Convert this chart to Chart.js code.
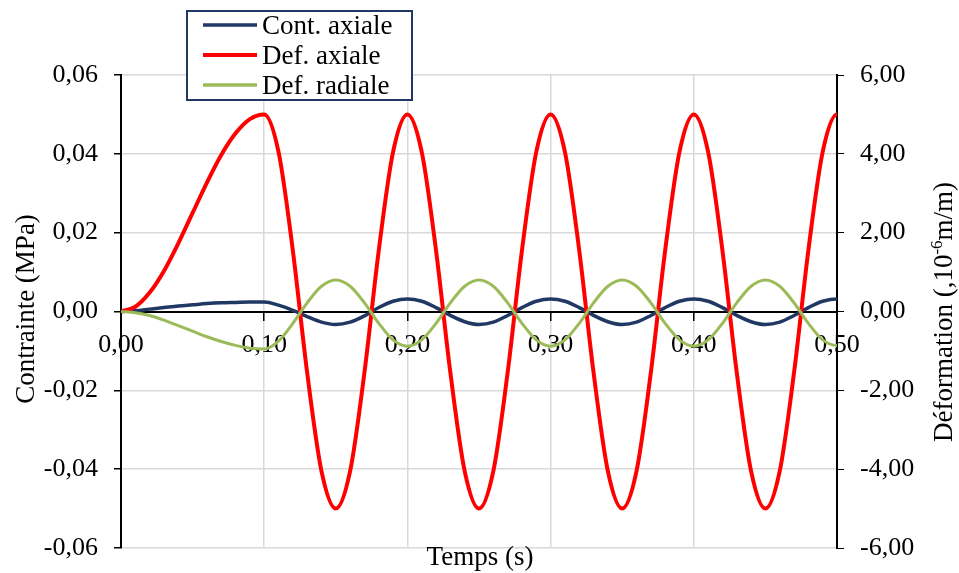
<!DOCTYPE html>
<html>
<head>
<meta charset="utf-8">
<script src="https://cdn.jsdelivr.net/npm/chart.js@4.4.1/dist/chart.umd.min.js"></script>
<style>
  body { margin: 0; background: #fff; }
  #wrap { width: 959px; height: 573px; position: relative; }
</style>
</head>
<body>
<div id="wrap"><canvas id="chart_temps"></canvas></div>
<script>
// temps (s) - le dernier point (0,51) sort du cadre, il sert juste a finir la courbe proprement
const temps = [0, 0.01, 0.02, 0.03, 0.04, 0.05, 0.06, 0.07, 0.08, 0.09,
    0.10, 0.11, 0.12, 0.13, 0.14, 0.15, 0.16, 0.17, 0.18, 0.19,
    0.20, 0.21, 0.22, 0.23, 0.24, 0.25, 0.26, 0.27, 0.28, 0.29,
    0.30, 0.31, 0.32, 0.33, 0.34, 0.35, 0.36, 0.37, 0.38, 0.39,
    0.40, 0.41, 0.42, 0.43, 0.44, 0.45, 0.46, 0.47, 0.48, 0.49, 0.50, 0.51];

// Cont. axiale (MPa)
const cont_axiale = [0, 0.0002, 0.0006, 0.0010, 0.0014, 0.0017, 0.0020, 0.0022, 0.0023, 0.0024,
    0.0024, 0.0016, 0.0003, -0.0013, -0.0027, -0.0033, -0.0027, -0.0011, 0.0010, 0.0026,
    0.0032, 0.0026, 0.0010, -0.0010, -0.0026, -0.0033, -0.0027, -0.0010, 0.0010, 0.0026,
    0.0032, 0.0026, 0.0010, -0.0010, -0.0026, -0.0033, -0.0027, -0.0010, 0.0010, 0.0026,
    0.0032, 0.0026, 0.0010, -0.0010, -0.0026, -0.0033, -0.0027, -0.0010, 0.0010, 0.0026, 0.0032, 0.0026];

// Def. axiale (10-6 m/m)
const def_axiale = [0, 0.12, 0.48, 1.03, 1.73, 2.50, 3.27, 3.97, 4.52, 4.88,
    5.00, 4.05, 1.55, -1.55, -4.05, -5.00, -4.05, -1.55, 1.55, 4.05,
    5.00, 4.05, 1.55, -1.55, -4.05, -5.00, -4.05, -1.55, 1.55, 4.05,
    5.00, 4.05, 1.55, -1.55, -4.05, -5.00, -4.05, -1.55, 1.55, 4.05,
    5.00, 4.05, 1.55, -1.55, -4.05, -5.00, -4.05, -1.55, 1.55, 4.05, 5.00, 4.05];

// Def. radiale (10-6 m/m)
const def_radiale = [0, -0.03, -0.10, -0.22, -0.36, -0.50, -0.64, -0.76, -0.86, -0.93,
    -0.95, -0.75, -0.30, 0.22, 0.64, 0.80, 0.64, 0.22, -0.30, -0.72,
    -0.88, -0.72, -0.30, 0.22, 0.64, 0.80, 0.64, 0.22, -0.30, -0.72,
    -0.88, -0.72, -0.30, 0.22, 0.64, 0.80, 0.64, 0.22, -0.30, -0.72,
    -0.88, -0.72, -0.30, 0.22, 0.64, 0.80, 0.64, 0.22, -0.30, -0.72, -0.86, -0.72];

const series_names = ["Cont. axiale", "Def. axiale", "Def. radiale"];
const series_colors = ["#203864", "#FF0000", "#9BBB59"];

const serif = "'Liberation Serif', 'Times New Roman', serif";

function pts(ys){
    return temps.map(function(t, i){ return {x: t, y: ys[i]}; });
}

function virgule(v, n){
    return v.toFixed(n).replace(".", ",");
}

// pas de marge auto autour des axes, le cadre est fixe par layout.padding
function sansMarge(s){
    s.paddingTop = 0;
    s.paddingBottom = 0;
}

// titres d'axes + legende dessines a la main
const decor = {
    id: "decor",
    afterDraw: function(chart){
        const ctx = chart.ctx;
        ctx.save();
        ctx.fillStyle = "#000";
        ctx.font = "27px " + serif;
        ctx.textBaseline = "alphabetic";

        // Temps (s)
        ctx.textAlign = "center";
        ctx.fillText("Temps (s)", 480, 565);

        // Contrainte (MPa)
        ctx.save();
        ctx.translate(34, 309);
        ctx.rotate(-Math.PI / 2);
        ctx.fillText("Contrainte (MPa)", 0, 0);
        ctx.restore();

        // Deformation (,10-6m/m)
        ctx.save();
        ctx.translate(952, 312);
        ctx.rotate(-Math.PI / 2);
        ctx.textAlign = "left";
        const p1 = "Déformation (,10", p2 = "-6", p3 = "m/m)";
        ctx.font = "27px " + serif;
        const w1 = ctx.measureText(p1).width, w3 = ctx.measureText(p3).width;
        ctx.font = "17px " + serif;
        const w2 = ctx.measureText(p2).width;
        let x = -(w1 + w2 + w3) / 2;
        ctx.font = "27px " + serif;
        ctx.fillText(p1, x, 0);
        ctx.font = "17px " + serif;
        ctx.fillText(p2, x + w1, -10);
        ctx.font = "27px " + serif;
        ctx.fillText(p3, x + w1 + w2, 0);
        ctx.restore();

        // legende
        ctx.fillStyle = "#fff";
        ctx.fillRect(187, 11, 225, 89);
        ctx.strokeStyle = "#203864";
        ctx.lineWidth = 2;
        ctx.strokeRect(187, 11, 225, 89);
        const rows = [25, 55, 85];
        ctx.textAlign = "left";
        ctx.font = "27px " + serif;
        for(let i = 0; i < series_names.length; i++){
            ctx.strokeStyle = series_colors[i];
            ctx.lineWidth = i == 1 ? 4 : 3.5;
            ctx.beginPath();
            ctx.moveTo(203, rows[i]);
            ctx.lineTo(257, rows[i]);
            ctx.stroke();
            ctx.fillStyle = "#000";
            ctx.fillText(series_names[i], 262, rows[i] + 9);
        }
        ctx.restore();
    }
};

const ctx_temps = document.querySelector("#chart_temps").getContext("2d");

var myChart = new Chart(ctx_temps, {
    type: "line",
    data: {
        datasets: [
            {
                label: series_names[0],
                data: pts(cont_axiale),
                yAxisID: "y",
                borderColor: series_colors[0],
                borderWidth: 3.5,
                order: 3
            },
            {
                label: series_names[1],
                data: pts(def_axiale),
                yAxisID: "y2",
                borderColor: series_colors[1],
                borderWidth: 4,
                order: 2
            },
            {
                label: series_names[2],
                data: pts(def_radiale),
                yAxisID: "y2",
                borderColor: series_colors[2],
                borderWidth: 3,
                order: 1
            }
        ]
    },
    options: {
        responsive: true,
        maintainAspectRatio: false,
        animation: false,
        elements: {
            point: { radius: 0 },
            line: { cubicInterpolationMode: "monotone", fill: false }
        },
        layout: { padding: { left: 0, right: 0, top: 75, bottom: 25 } },
        plugins: {
            legend: { display: false },
            tooltip: { enabled: false }
        },
        scales: {
            x: {
                type: "linear",
                position: { y: 0 },
                min: 0,
                max: 0.5,
                afterFit: sansMarge,
                border: { color: "#000", width: 2 },
                grid: { color: "#d9d9d9", lineWidth: 1.5, tickColor: "#000", tickLength: 8 },
                ticks: {
                    stepSize: 0.1,
                    color: "#000",
                    padding: 10,
                    font: { family: serif, size: 26 },
                    maxRotation: 0,
                    callback: function(v){ return virgule(v, 2); }
                }
            },
            y: {
                position: "left",
                min: -0.06,
                max: 0.06,
                afterFit: function(s){ s.width = 121; sansMarge(s); },
                border: { color: "#000", width: 2 },
                grid: { color: "#d9d9d9", lineWidth: 1.5, tickColor: "#000", tickLength: 7 },
                ticks: {
                    stepSize: 0.02,
                    color: "#000",
                    padding: 16,
                    font: { family: serif, size: 26 },
                    callback: function(v){ return virgule(v, 2); }
                }
            },
            y2: {
                position: "right",
                min: -6,
                max: 6,
                afterFit: function(s){ s.width = 122; sansMarge(s); },
                border: { color: "#000", width: 2 },
                grid: { drawOnChartArea: false, tickColor: "#000", tickLength: 7 },
                ticks: {
                    stepSize: 2,
                    color: "#000",
                    padding: 16,
                    font: { family: serif, size: 26 },
                    callback: function(v){ return virgule(v, 2); }
                }
            }
        }
    },
    plugins: [decor]
});
</script>
</body>
</html>
